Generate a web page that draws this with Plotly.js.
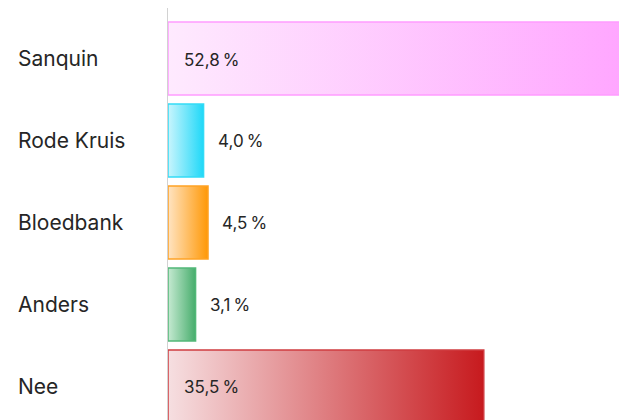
<!DOCTYPE html>
<html>
<head>
<meta charset="utf-8">
<script src="https://cdn.plot.ly/plotly-3.0.1.min.js"></script>
<style>
html,body{margin:0;padding:0;background:#fff;}
#chart{width:619px;height:420px;}
</style>
</head>
<body>
<div id="chart"></div>
<script>
const categories = ['Sanquin', 'Rode Kruis', 'Bloedbank', 'Anders', 'Nee'];
const values = [52.8, 4.0, 4.5, 3.1, 35.5];
const valueLabels = ['52,8\u202F%', '4,0\u202F%', '4,5\u202F%', '3,1\u202F%', '35,5\u202F%'];
const colorsStart = ['#feeafe', '#c9f5fd', '#ffe4c2', '#c6ead2', '#f6dfe1'];
const colorsEnd = ['#ffa4ff', '#1fd8f8', '#ff9806', '#47ad6c', '#c71a1e'];
const borderColors = ['#ff9cff', '#33dbf6', '#ffa224', '#52b878', '#d03c40'];

const trace = {
  type: 'bar',
  orientation: 'h',
  y: categories,
  x: values,
  width: 0.89,
  marker: {color: colorsEnd, line: {color: borderColors, width: 1.5}},
  hoverinfo: 'none'
};

const annotations = [];
categories.forEach((c, i) => {
  annotations.push({
    xref: 'paper', yref: 'y', x: -0.3370, y: c, xanchor: 'left', align: 'left',
    text: c, showarrow: false,
    font: {family: 'Inter, sans-serif', size: 21, color: '#262626'}
  });
  const inside = values[i] > 10;
  annotations.push({
    xref: 'x', yref: 'y', x: inside ? 0 : values[i], y: c, xanchor: 'left', align: 'left',
    xshift: inside ? 14 : 12, yshift: -1,
    text: valueLabels[i], showarrow: false,
    font: {family: 'Inter, sans-serif', size: 17, color: '#262626'}
  });
});

const layout = {
  width: 619, height: 420,
  margin: {l: 168, r: 0, t: 8, b: 0},
  paper_bgcolor: '#fff', plot_bgcolor: '#fff',
  showlegend: false,
  xaxis: {range: [0, 50.7], showgrid: false, zeroline: false, showticklabels: false, showline: false, fixedrange: true},
  yaxis: {type: 'category', range: [4.41, -0.616], showgrid: false, zeroline: false, showticklabels: false,
          showline: true, linecolor: '#d2d2d2', linewidth: 1.5, ticks: ''},
  annotations: annotations
};

Plotly.newPlot('chart', [trace], layout, {staticPlot: true, displayModeBar: false}).then(gd => {
  const svg = gd.querySelector('svg.main-svg');
  const ns = 'http://www.w3.org/2000/svg';
  let defs = svg.querySelector('defs');
  if (!defs) { defs = document.createElementNS(ns, 'defs'); svg.insertBefore(defs, svg.firstChild); }
  colorsStart.forEach((s, i) => {
    const g = document.createElementNS(ns, 'linearGradient');
    g.setAttribute('id', 'barGrad' + i);
    g.setAttribute('x1', '0'); g.setAttribute('y1', '0'); g.setAttribute('x2', '1'); g.setAttribute('y2', '0');
    const s1 = document.createElementNS(ns, 'stop'); s1.setAttribute('offset', '0'); s1.setAttribute('stop-color', s);
    const s2 = document.createElementNS(ns, 'stop'); s2.setAttribute('offset', '1'); s2.setAttribute('stop-color', colorsEnd[i]);
    g.appendChild(s1); g.appendChild(s2); defs.appendChild(g);
  });
  gd.querySelectorAll('.barlayer .point path').forEach((p, i) => {
    p.style.fill = 'url(#barGrad' + i + ')';
  });
});
</script>
</body>
</html>
